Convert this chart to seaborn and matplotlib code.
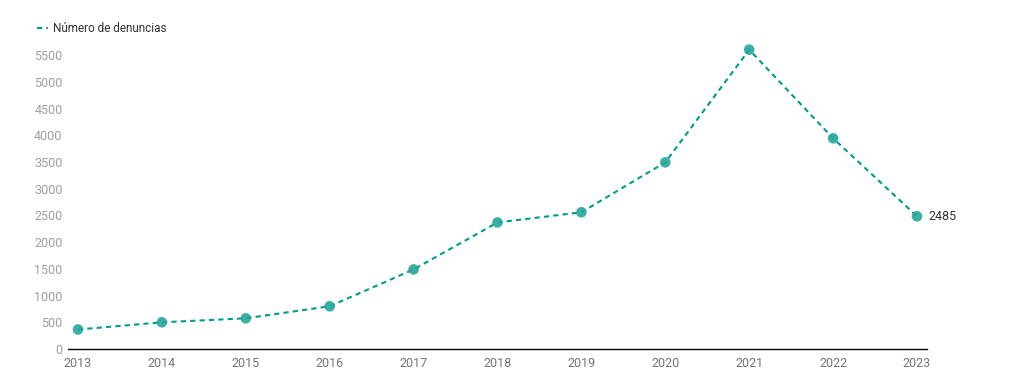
import matplotlib
matplotlib.use("Agg")
import matplotlib.pyplot as plt
import seaborn as sns
import pandas as pd
from matplotlib.lines import Line2D

years = [2013, 2014, 2015, 2016, 2017, 2018, 2019, 2020, 2021, 2022, 2023]
denuncias = [365, 500, 575, 800, 1490, 2370, 2560, 3495, 5605, 3945, 2485]
series_name = "Número de denuncias"
yticks = list(range(0, 5501, 500))

df = pd.DataFrame({"year": years, "value": denuncias})

sns.set_theme(style="white")
plt.rcParams["font.family"] = ["Roboto", "DejaVu Sans"]

fig = plt.figure(figsize=(10.24, 3.83), dpi=100)
ax = fig.add_axes([68 / 1024, 1 - 349 / 383, (927 - 68) / 1024, (349 - 40) / 383])

line_color = "#009b8f"
dash = (0, (2.5, 2))
sns.lineplot(data=df, x="year", y="value", ax=ax, color=line_color,
             linestyle=dash, linewidth=1.5, legend=False)
sns.scatterplot(data=df, x="year", y="value", ax=ax, color="#26a69a",
                s=58, alpha=0.9, edgecolor="none", zorder=3, legend=False)

ax.set_xlim(2013 - 10 / 83.9, 2023 + 10 / 83.9)
ax.set_ylim(0, 5786)
ax.set_xticks(years)
ax.set_xticklabels([str(y) for y in years])
ax.set_yticks(yticks)
ax.set_xlabel("")
ax.set_ylabel("")
for s in ["top", "right", "left"]:
    ax.spines[s].set_visible(False)
ax.spines["bottom"].set_color("#000000")
ax.spines["bottom"].set_linewidth(1)
ax.tick_params(axis="x", colors="#757575", labelsize=9, length=0, pad=6)
ax.tick_params(axis="y", colors="#9e9e9e", labelsize=9, length=0, pad=4)

ax.annotate(str(denuncias[-1]), xy=(years[-1], denuncias[-1]), xytext=(8, 0),
            textcoords="offset points", va="center", ha="left",
            fontsize=9, color="#333333")

handle = Line2D([0], [0], color=line_color, linestyle=dash, linewidth=1.5)
fig.legend([handle], [series_name], loc="center left",
           bbox_to_anchor=(26 / 1024, 1 - 29 / 383), frameon=False,
           fontsize=8.5, handlelength=1.0, handletextpad=0.4,
           labelcolor="#333333")

fig.savefig("out.png", dpi=100)
